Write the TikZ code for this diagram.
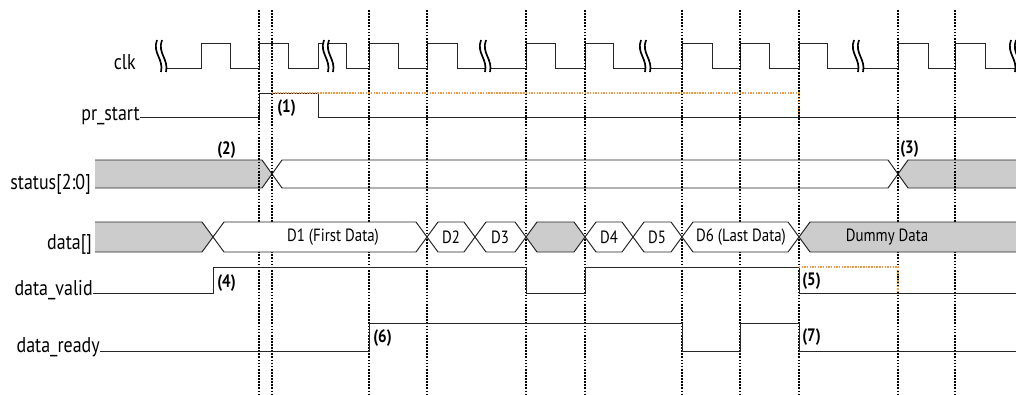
\documentclass[tikz,border=0pt]{standalone}
\usepackage{fontspec}
\setmainfont[FakeStretch=0.84]{PT Sans}
\usetikzlibrary{positioning}
\definecolor{hintorange}{RGB}{247,150,60}
\definecolor{busgray}{RGB}{204,204,204}

\begin{document}
\begin{tikzpicture}[
    x=0.025cm, y=-0.025cm,
    sig/.style={draw=black!85, line width=0.7pt},
    guide/.style={draw=black, line width=1.6pt, dash pattern=on 1.2pt off 1pt},
    hint/.style={draw=hintorange, line width=1pt, dash pattern=on 1pt off 0.9pt},
    brkline/.style={draw=black, line width=1.2pt},
    lbl/.style={font=\fontsize{15.2}{17}\selectfont, anchor=base east, inner sep=0pt},
    num/.style={font=\fontsize{12.8}{14}\selectfont\bfseries, anchor=west, inner sep=0pt},
    bustxt/.style={font=\fontsize{12.6}{14}\selectfont, inner sep=0pt},
    brk/.pic={
        \fill[white] (-6,-16) .. controls (-11,-3) and (1,3) .. (-2,16) -- (3,16) .. controls (6,3) and (-6,-3) .. (-1,-16) -- cycle;
        \draw[brkline] (-6,-16) .. controls (-11,-3) and (1,3) .. (-2,16);
        \draw[brkline] (-1,-16) .. controls (-6,-3) and (6,3) .. (3,16);
    }
]
\clip (0,0) rectangle (1016,394);

% --- Signal names ---
\node[lbl] (lclk)    at (136,70)  {clk};
\node[lbl] (lpr)     at (140,120) {pr\_start};
\node[lbl] (lstatus) at (91,189)  {status[2:0]};
\node[lbl] (ldata)   at (92,249)  {data[]};
\node[lbl] (lvalid)  at (93,295)  {data\_valid};
\node[lbl] (lready)  at (100,352) {data\_ready};

% --- clk ---
\draw[sig] (163,68) -- (201,68) -- (201,43) -- (230,43) -- (230,68) -- (259,68) -- (259,43)
    -- (288,43) -- (288,68) -- (318,68) -- (318,43) -- (346,43) -- (346,68) -- (369,68)
    -- (369,43) -- (398,43) -- (398,68) -- (427,68) -- (427,43) -- (457,43) -- (457,68)
    -- (526,68) -- (526,43) -- (555,43) -- (555,68) -- (585,68) -- (585,43) -- (613,43)
    -- (613,68) -- (682,68) -- (682,43) -- (712,43) -- (712,68) -- (740,68) -- (740,43)
    -- (769,43) -- (769,68) -- (799,68) -- (799,43) -- (827,43) -- (827,68) -- (898,68)
    -- (898,43) -- (928,43) -- (928,68) -- (955,68) -- (955,43) -- (985,43) -- (985,68)
    -- (1016,68);
\pic at (163,56) {brk};
\pic at (330,56) {brk};
\pic at (487,56) {brk};
\pic at (647,56) {brk};
\pic at (860,56) {brk};
\pic at (1017,56) {brk};

% --- pr_start ---
\draw[sig] (140,117) -- (259,117) -- (259,93) -- (318,93) -- (318,117) -- (1016,117);
\draw[hint] (272,93) -- (799,93) -- (799,117);

% --- status[2:0] ---
\fill[busgray] (95,160) -- (262,160) -- (272,174) -- (262,188) -- (95,188) -- cycle;
\draw[sig] (95,160) -- (262,160) -- (272,174) -- (262,188) -- (95,188);
\draw[sig, fill=white] (272,174) -- (282,160) -- (888,160) -- (898,174) -- (888,188) -- (282,188) -- cycle;
\fill[busgray] (898,174) -- (908,160) -- (1016,160) -- (1016,188) -- (908,188) -- cycle;
\draw[sig] (1016,160) -- (908,160) -- (898,174) -- (908,188) -- (1016,188);

% --- Clock edge guides ---
\draw[guide] (259,10) -- (259,394);
\draw[guide] (272,10) -- (272,394);
\draw[guide] (369,10) -- (369,394);
\draw[guide] (427,10) -- (427,394);
\draw[guide] (526,10) -- (526,394);
\draw[guide] (585,10) -- (585,394);
\draw[guide] (682,10) -- (682,394);
\draw[guide] (740,10) -- (740,394);
\draw[guide] (799,10) -- (799,394);
\draw[guide] (898,10) -- (898,394);
\draw[guide] (955,10) -- (955,394);

% --- data[] (covers the guides) ---
\fill[busgray] (95,222) -- (202,222) -- (213,237) -- (202,252) -- (95,252) -- cycle;
\draw[sig] (95,222) -- (202,222) -- (213,237) -- (202,252) -- (95,252);
\draw[sig, fill=white] (213,237) -- (224,222) -- (416,222) -- (427,237) -- (416,252) -- (224,252) -- cycle;
\draw[sig, fill=white] (427,237) -- (438,222) -- (464,222) -- (475,237) -- (464,252) -- (438,252) -- cycle;
\draw[sig, fill=white] (475,237) -- (486,222) -- (515,222) -- (526,237) -- (515,252) -- (486,252) -- cycle;
\draw[sig, fill=busgray] (526,237) -- (537,222) -- (574,222) -- (585,237) -- (574,252) -- (537,252) -- cycle;
\draw[sig, fill=white] (585,237) -- (596,222) -- (622,222) -- (633,237) -- (622,252) -- (596,252) -- cycle;
\draw[sig, fill=white] (633,237) -- (644,222) -- (671,222) -- (682,237) -- (671,252) -- (644,252) -- cycle;
\draw[sig, fill=white] (682,237) -- (693,222) -- (788,222) -- (799,237) -- (788,252) -- (693,252) -- cycle;
\fill[busgray] (799,237) -- (810,222) -- (1016,222) -- (1016,252) -- (810,252) -- cycle;
\draw[sig] (1016,222) -- (810,222) -- (799,237) -- (810,252) -- (1016,252);
\node[bustxt] (d1)    at (333,237) {D1 (First Data)};
\node[bustxt] (d2)    at (451,237) {D2};
\node[bustxt] (d3)    at (500,237) {D3};
\node[bustxt] (d4)    at (609,237) {D4};
\node[bustxt] (d5)    at (657,237) {D5};
\node[bustxt] (d6)    at (741,237) {D6 (Last Data)};
\node[bustxt] (dummy) at (887,237) {Dummy Data};

% --- data_valid ---
\draw[sig] (93,293) -- (213,293) -- (213,267) -- (526,267) -- (526,293) -- (585,293) -- (585,267)
    -- (799,267) -- (799,293) -- (1016,293);
\draw[hint] (799,267) -- (898,267) -- (898,293);

% --- data_ready ---
\draw[sig] (100,351) -- (369,351) -- (369,323) -- (682,323) -- (682,351) -- (740,351) -- (740,323)
    -- (799,323) -- (799,351) -- (1016,351);

% --- Event numbers ---
\node[num] (n1) at (277,108) {(1)};
\node[num] (n2) at (217,150) {(2)};
\node[num] (n3) at (900,149) {(3)};
\node[num] (n4) at (217,283) {(4)};
\node[num] (n5) at (802,281) {(5)};
\node[num] (n6) at (373,338) {(6)};
\node[num] (n7) at (802,337) {(7)};
\end{tikzpicture}
\end{document}
